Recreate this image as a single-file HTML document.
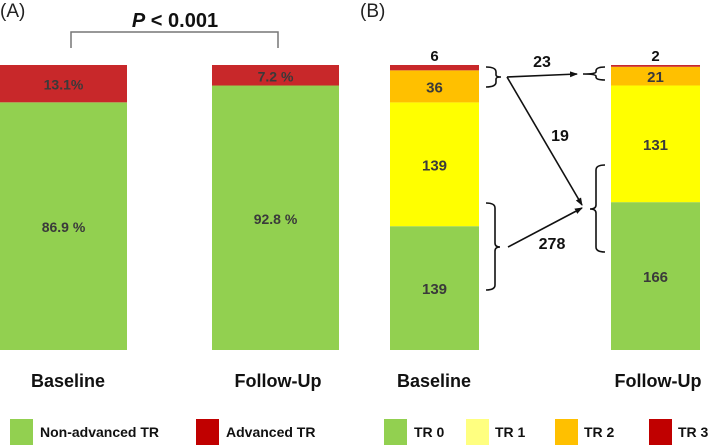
<!DOCTYPE html>
<html><head><meta charset="utf-8">
<style>
body{margin:0;background:#fff;}
svg{display:block;font-family:"Liberation Sans",Arial,sans-serif;}
</style></head>
<body>
<svg id="c" width="709" height="445" viewBox="0 0 709 445"></svg>
<script>
const groupsA = ["Baseline","Follow-Up"];
const nonAdvancedPct = [86.9, 92.8];
const advancedPct = [13.1, 7.2];
const labelsNonAdv = ["86.9 %","92.8 %"];
const labelsAdv = ["13.1%","7.2 %"];

const groupsB = ["Baseline","Follow-Up"];
const tr0 = [139, 166];
const tr1 = [139, 131];
const tr2 = [36, 21];
const tr3 = [6, 2];

const NS="http://www.w3.org/2000/svg";
const svg=document.getElementById('c');
function mk(tag,attrs,parent){const e=document.createElementNS(NS,tag);for(const k in attrs)e.setAttribute(k,attrs[k]);(parent||svg).appendChild(e);return e;}
function txt(s,x,y,size,weight,fill,anchor){const t=mk('text',{x:x,y:y,'font-size':size,'font-weight':weight||'bold',fill:fill||'#111','text-anchor':anchor||'middle'});t.textContent=s;return t;}

// Panel A
const topY=65, botY=350, hA=botY-topY;
const yA=v=>botY - v/100*hA;
const xA=[0,212], wA=127;
let t=txt("(A)",0,17,19,'normal','#222','start');

groupsA.forEach((g,i)=>{
  const g1=nonAdvancedPct[i], g2=advancedPct[i];
  let r=mk('rect',{x:xA[i],y:yA(g1),width:wA,height:botY-yA(g1),fill:'#92d050'});
  
  
  let r2=mk('rect',{x:xA[i],y:yA(g1+g2),width:wA,height:yA(g1)-yA(g1+g2),fill:'#c8282a'});
  
  
  let l=txt(labelsNonAdv[i],xA[i]+wA/2,(yA(g1)+botY)/2+6,14,'bold','#3a3a3a');
  
  let l2=txt(labelsAdv[i],xA[i]+wA/2,(yA(g1)+yA(g1+g2))/2+6,14,'bold','#3a3a3a');
  
  let c=txt(g,[68,278][i],387,18,'bold','#111');
  
});
let br=mk('path',{d:'M71 48 V32 H278 V48',fill:'none',stroke:'#777','stroke-width':1.5});

let p=mk('text',{x:175,y:27,'font-size':20,'font-weight':'bold','text-anchor':'middle',fill:'#111'});
p.innerHTML='<tspan font-style="italic">P</tspan> &lt; 0.001';

// legend A
[[10,'#92d050','Non-advanced TR',40],[196,'#c00000','Advanced TR',226]].forEach(([x,c,s,tx])=>{
  let r=mk('rect',{x:x,y:419,width:23,height:26,fill:c});
  
  let l=txt(s,tx,437,14,'bold','#111','start');
  
});

// Panel B
t=txt("(B)",360,17,19,'normal','#222','start');

const xB=[390,611], wB=89;
groupsB.forEach((g,i)=>{
  const total=tr0[i]+tr1[i]+tr2[i]+tr3[i];
  const yB=v=>botY - v/total*hA;
  const segs=[[tr0[i],'#92d050','tr0'],[tr1[i],'#ffff00','tr1'],[tr2[i],'#ffc000','tr2'],[tr3[i],'#c8282a','tr3']];
  let cum=0;
  segs.forEach(([v,c,n],k)=>{
    const y0=yB(cum), y1=yB(cum+v);
    let r=mk('rect',{x:xB[i],y:y1,width:wB,height:y0-y1,fill:c});
    
    
    if(k<3){
      let l=txt(String(v),xB[i]+wB/2,(y0+y1)/2+6,15,'bold','#3a3a3a');
      
    } else {
      let l=txt(String(v),xB[i]+wB/2,61,15,'bold','#111');
      
    }
    cum+=v;
  });
  let c=txt(g,[434,658][i],387,18,'bold','#111');
  
});
// braces and arrows
const defs=mk('defs',{});
const mkr=mk('marker',{id:'ah',markerWidth:8,markerHeight:8,refX:7,refY:4,orient:'auto',markerUnits:'userSpaceOnUse'},defs);
mk('path',{d:'M0 1 L8 4 L0 7 Z',fill:'#111'},mkr);
const paths=[
 ['M486 67 Q496 67 496 72 V75 Q496 77 501 77 Q496 77 496 79 V82 Q496 87 486 87','brace-baseline-top'],
 ['M486 203 Q495 203 495 208 V243 Q495 247 500 247 Q495 247 495 251 V285 Q495 290 486 290','brace-baseline-bottom'],
 ['M605 67 Q596 67 596 71 V72 Q596 74 583 74 Q596 74 596 76 V77 Q596 80 605 80','brace-followup-top'],
 ['M605 165 Q596 165 596 170 V205 Q596 209 590 209 Q596 209 596 213 V247 Q596 252 605 252','brace-followup-bottom']
];
paths.forEach(([d,n])=>{let e=mk('path',{d:d,fill:'none',stroke:'#111','stroke-width':1.6});});
[[507,77,577,74,'arrow-23'],[507,77,582,205,'arrow-19'],[508,247,582,208,'arrow-278']].forEach(([a,b,c,d,n])=>{
  let e=mk('line',{x1:a,y1:b,x2:c,y2:d,stroke:'#111','stroke-width':1.6,'marker-end':'url(#ah)'});
  
});
[['23',542,67],['19',560,141],['278',552,249]].forEach(([s,x,y])=>{
  let l=txt(s,x,y,16,'bold','#111');
});
// legend B
[[384,'#92d050','TR 0',414],[466,'#ffff80','TR 1',495],[555,'#ffc000','TR 2',584],[649,'#c00000','TR 3',678]].forEach(([x,c,s,tx])=>{
  let r=mk('rect',{x:x,y:419,width:23,height:26,fill:c});
  
  let l=txt(s,tx,437,14,'bold','#111','start');
  
});
</script>
</body></html>
